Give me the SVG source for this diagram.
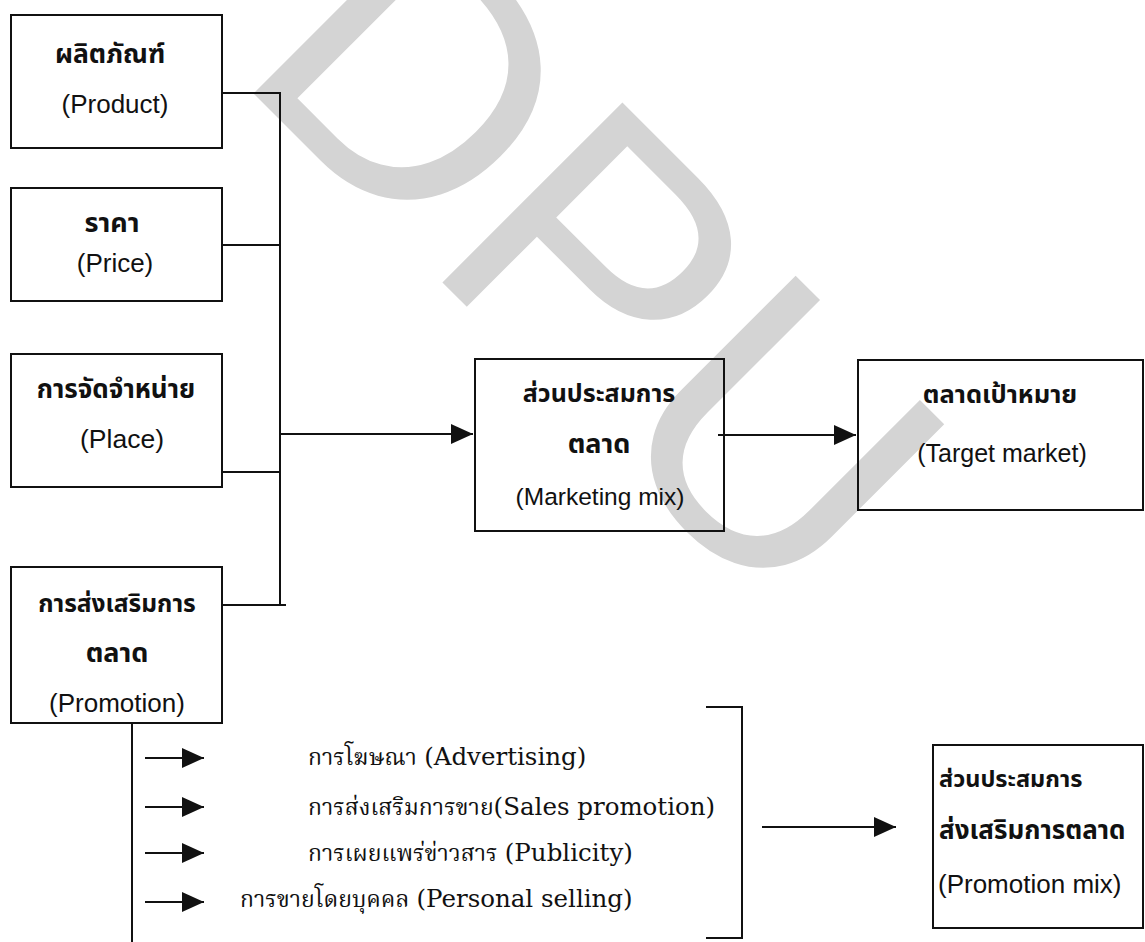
<svg xmlns="http://www.w3.org/2000/svg" width="1145" height="942" viewBox="0 0 1145 942">
  <style>
    .box { fill: none; stroke: #111; stroke-width: 2; }
    .wire { fill: none; stroke: #111; stroke-width: 2; }
    .arrow { marker-end: url(#head); }
    .lbl { font-family: "Liberation Sans", "Noto Sans Thai", "Noto Sans", sans-serif; font-size: 25px; fill: #111; }
    .th { font-family: "Liberation Sans", "Noto Sans Thai", "Noto Sans", sans-serif; font-size: 27px; font-weight: bold; fill: #111; }
    .item { font-family: "DejaVu Serif", "Noto Serif Thai", "Noto Sans Thai", serif; font-size: 23px; fill: #111; }
    .item .en { font-size: 24.5px; }
    .mark { font-family: "Liberation Sans", sans-serif; font-size: 370px; fill: #d4d4d4; }
  </style>
  <defs>
    <marker id="head" markerUnits="userSpaceOnUse" markerWidth="22" markerHeight="20" refX="22" refY="10" orient="auto">
      <path d="M0,0 L22,10 L0,20 Z" fill="#111"/>
    </marker>
  </defs>

  <rect width="1145" height="942" fill="#fff"/>

  <!-- background watermark -->
  <text class="mark" transform="translate(232,72) rotate(45)">DPU</text>

  <g id="product">
    <rect class="box" x="11" y="15" width="211" height="133"/>
    <text class="th" x="110" y="63" text-anchor="middle" style="font-size:26.5px">ผลิตภัณฑ์</text>
    <text class="lbl" x="115" y="113" text-anchor="middle" style="font-size:26px">(Product)</text>
  </g>

  <g id="price">
    <rect class="box" x="11" y="188" width="211" height="113"/>
    <text class="th" x="112" y="232" text-anchor="middle">ราคา</text>
    <text class="lbl" x="115" y="272" text-anchor="middle" style="font-size:26px">(Price)</text>
  </g>

  <g id="place">
    <rect class="box" x="11" y="354" width="211" height="133"/>
    <text class="th" x="116" y="398" text-anchor="middle" style="font-size:26px">การจัดจำหน่าย</text>
    <text class="lbl" x="122" y="448" text-anchor="middle" style="font-size:26.5px">(Place)</text>
  </g>

  <g id="promotion">
    <rect class="box" x="11" y="567" width="211" height="156"/>
    <text class="th" x="117" y="612" text-anchor="middle" style="font-size:24.5px">การส่งเสริมการ</text>
    <text class="th" x="117" y="662" text-anchor="middle">ตลาด</text>
    <text class="lbl" x="117" y="712" text-anchor="middle" style="font-size:26px">(Promotion)</text>
  </g>

  <g id="marketing-mix">
    <rect class="box" x="475" y="359" width="249" height="172"/>
    <text class="th" x="599" y="402" text-anchor="middle" style="font-size:25px">ส่วนประสมการ</text>
    <text class="th" x="599" y="453" text-anchor="middle">ตลาด</text>
    <text class="lbl" x="600" y="505" text-anchor="middle" style="font-size:24.5px">(Marketing mix)</text>
  </g>

  <g id="target-market">
    <rect class="box" x="858" y="360" width="285" height="150"/>
    <text class="th" x="1000" y="403" text-anchor="middle" style="font-size:25.5px">ตลาดเป้าหมาย</text>
    <text class="lbl" x="1002" y="462" text-anchor="middle">(Target market)</text>
  </g>

  <g id="promotion-tools">
    <text class="item" x="308" y="765">การโฆษณา <tspan class="en">(Advertising)</tspan></text>
    <text class="item" x="308" y="815">การส่งเสริมการขาย<tspan class="en">(Sales promotion)</tspan></text>
    <text class="item" x="308" y="861">การเผยแพร่ข่าวสาร <tspan class="en">(Publicity)</tspan></text>
    <text class="item" x="240" y="907">การขายโดยบุคคล <tspan class="en">(Personal selling)</tspan></text>
  </g>

  <g id="promotion-mix">
    <rect class="box" x="933" y="745" width="210" height="183"/>
    <text class="th" x="939" y="787" style="font-size:23.5px">ส่วนประสมการ</text>
    <text class="th" x="939" y="839" style="font-size:26px">ส่งเสริมการตลาด</text>
    <text class="lbl" x="938" y="893" style="font-size:26px">(Promotion mix)</text>
  </g>

  <g id="connectors">
    <path class="wire" d="M222,93 H280 V604"/>
    <path class="wire" d="M222,245 H280"/>
    <path class="wire" d="M222,472 H280"/>
    <path class="wire" d="M222,605 H286"/>
    <path class="wire arrow" d="M280,434 H473"/>
    <path class="wire arrow" d="M718,435 H856"/>
    <path class="wire" d="M132,722 V942"/>
    <path class="wire arrow" d="M145,758 H204"/>
    <path class="wire arrow" d="M145,807 H204"/>
    <path class="wire arrow" d="M145,853 H204"/>
    <path class="wire arrow" d="M145,902 H204"/>
    <path class="wire" d="M706,707 H742 V938 H706"/>
    <path class="wire arrow" d="M762,827 H896"/>
  </g>
</svg>
